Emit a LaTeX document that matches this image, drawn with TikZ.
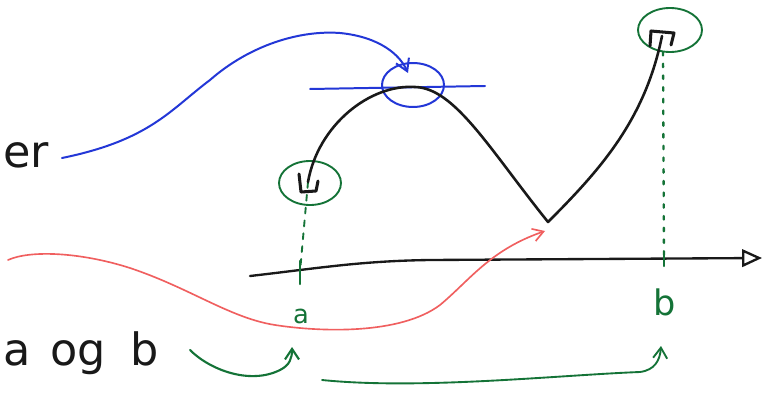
\documentclass[tikz,border=0pt]{standalone}
\usepackage{fontspec}
\setmainfont{DejaVu Sans}
\usetikzlibrary{arrows.meta}
\definecolor{inkblue}{RGB}{35,55,215}
\definecolor{inkgreen}{RGB}{20,115,55}
\definecolor{inkred}{RGB}{240,95,95}
\definecolor{inkblack}{RGB}{25,25,25}
\tikzset{
  curve/.style={inkblack, line width=2.2pt, line cap=round, line join=round},
  bluepen/.style={inkblue, line width=1.7pt, line cap=round},
  greenpen/.style={inkgreen, line width=1.6pt, line cap=round},
  redpen/.style={inkred, line width=1.4pt, line cap=round},
  hand/.style={inkblack, inner sep=0pt, font=\fontsize{38}{42}\selectfont},
  greenlabel/.style={inkgreen, inner sep=0pt},
}
\begin{document}
\begin{tikzpicture}[x=0.03cm, y=-0.03cm]
\clip (0,0) rectangle (765,397);
\fill[white] (0,0) rectangle (765,397);
% coordinates
\coordinate (start) at (308,182);
\coordinate (peak) at (415,87);
\coordinate (vmin) at (548,222);
\coordinate (endp) at (662,36);
\coordinate (axL) at (250,276);
\coordinate (axM) at (430,260);
\coordinate (axR) at (762,258);
\coordinate (ta) at (300,272);
\coordinate (tb) at (664,262);
% texts
\node[hand, anchor=west] (er) at (3,155) {er};
\node[hand, anchor=base west] (aogb) at (3,365) {a\hspace{0.45em}og\hspace{0.55em}b};
\node[greenlabel, font=\fontsize{22}{24}\selectfont] (la) at (301,316) {a};
\node[greenlabel, font=\fontsize{30}{32}\selectfont] (lb) at (665,302) {b};
% axis
\draw[curve, line width=2pt, -{Triangle[open, length=17pt, width=15pt, line width=2pt]}]
  (axL) .. controls (320,268) and (360,261) .. (axM) -- (axR);
% dotted verticals
\draw[greenpen, dash pattern=on 5pt off 6pt] (start) -- (ta);
\draw[greenpen, line width=2pt] (300,261) -- (300,284);
\draw[greenpen, dash pattern=on 3pt off 7pt, line width=2pt] (663,52) -- (tb);
\draw[greenpen, line width=2pt] (664,252) -- (664,266);
% ellipses
\draw[greenpen] (310,183) ellipse [x radius=31, y radius=22];
\draw[greenpen] (670,30) ellipse [x radius=32, y radius=22];
\draw[bluepen] (413,85) ellipse [x radius=31, y radius=22];
\draw[bluepen] (310,89) -- (485,86);
% main curve
\draw[curve] (start) .. controls (318,125) and (370,84) .. (peak)
  .. controls (455,88) and (490,150) .. (vmin)
  .. controls (600,170) and (645,120) .. (endp);
% end brackets
\draw[curve, line width=2.6pt] (299,174) -- (301,192) -- (316,191) -- (318,181);
\draw[curve, line width=2.6pt] (650,46) -- (651,31) -- (674,33) -- (671,45);
% blue arrow
\draw[bluepen, -{Straight Barb[length=10pt, width=12pt]}] (62,158)
  .. controls (150,140) and (170,110) .. (210,80)
  .. controls (250,45) and (300,30) .. (340,33)
  .. controls (380,37) and (400,55) .. (408,73);
% red arrow
\draw[redpen, -{Straight Barb[length=9pt, width=11pt]}] (8,260)
  .. controls (30,250) and (80,252) .. (130,268)
  .. controls (190,288) and (230,318) .. (275,325)
  .. controls (320,332) and (400,335) .. (440,305)
  .. controls (470,280) and (490,250) .. (545,231);
% green arrows
\draw[greenpen, line width=1.8pt, -{Straight Barb[length=9pt, width=12pt]}] (190,350)
  .. controls (210,370) and (250,385) .. (280,370)
  .. controls (290,365) and (292,358) .. (292,347);
\draw[greenpen, line width=1.6pt, -{Straight Barb[length=9pt, width=12pt]}] (322,380)
  .. controls (420,390) and (560,375) .. (640,372)
  .. controls (655,370) and (660,360) .. (661,346);
\end{tikzpicture}
\end{document}
